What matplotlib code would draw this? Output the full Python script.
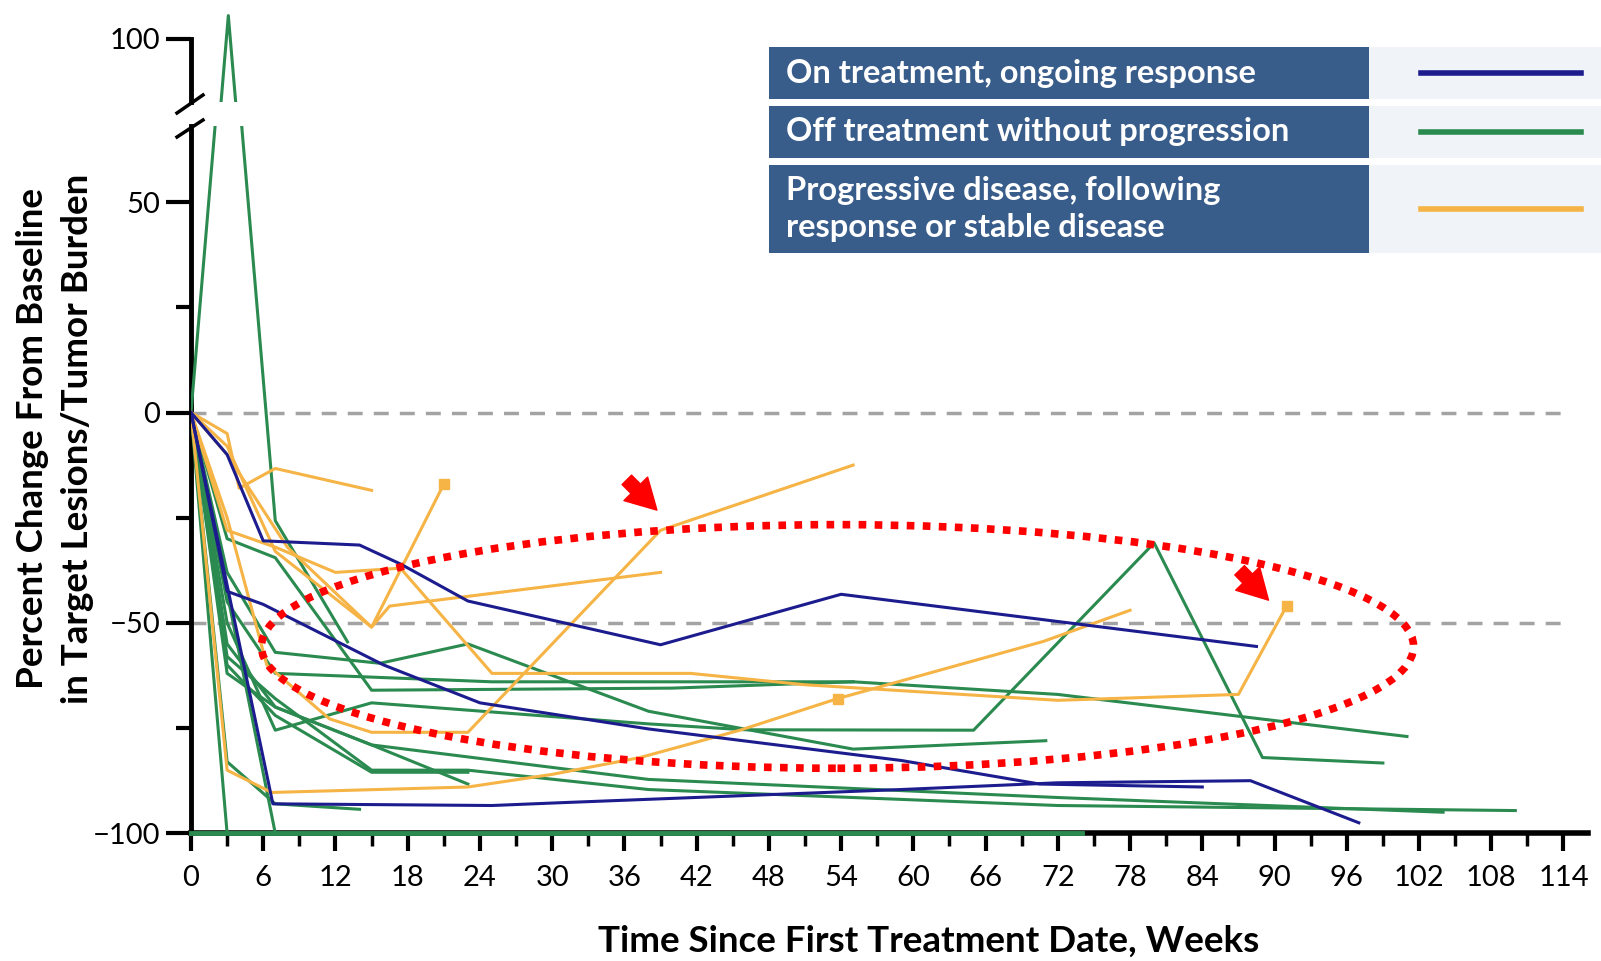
import numpy as np
import matplotlib
matplotlib.use('Agg')
import matplotlib.pyplot as plt
from matplotlib.patches import Ellipse, Rectangle
from matplotlib.lines import Line2D

plt.rcParams['font.family'] = ['Lato', 'DejaVu Sans']

# on treatment, ongoing response
on_weeks = [
    [0, 3, 6, 14, 17.4, 23, 39, 54, 88.5],
    [0, 3, 6, 16, 24, 38, 59, 70.5, 84],
    [0, 6.8, 25, 31, 59, 72, 88, 97],
]
on_pct = [
    [0, -10, -30.5, -31.5, -36, -44.8, -55.2, -43.2, -55.6],
    [0, -42.5, -45.6, -60, -69, -75.2, -82.7, -88.3, -89],
    [0, -93, -93.4, -92.7, -89.6, -88, -87.5, -97.5],
]

# off treatment without progression
off_weeks = [
    [0, 3.1, 7, 13],
    [0, 3, 74],
    [0, 7],
    [0, 3, 7, 25, 55, 72, 101],
    [0, 3, 7, 15.7, 23, 38, 55, 71],
    [0, 3, 7, 15, 40, 55],
    [0, 3, 7, 15, 38, 46, 65, 80, 89, 99],
    [0, 3, 7, 15, 38, 72, 104],
    [0, 3, 7, 15, 23, 38, 72, 110],
    [0, 3, 7, 15, 23],
    [0, 3, 7, 15, 23],
    [0, 3, 7, 14],
]
off_pct = [
    [0, 105.5, -25.7, -54.5],
    [0, -100, -100],
    [0, -100],
    [0, -45, -62, -64, -64, -67, -77],
    [0, -38, -57, -59.6, -55, -71, -80, -78],
    [0, -30, -34.5, -66, -65.5, -64],
    [0, -50, -75.5, -69, -74, -75.4, -75.5, -31, -82, -83.3],
    [0, -55, -70, -79, -87.2, -91.5, -95],
    [0, -58, -68, -85, -85, -89.6, -93.4, -94.6],
    [0, -60, -72, -85.5, -85.5],
    [0, -62, -70, -79, -88.3],
    [0, -83, -93, -94.3],
]
# patient whose burden stays at -100 along the axis
axis_weeks = [0, 74]
axis_pct = [-100, -100]

# progressive disease after response / stable disease
pd_weeks = [
    [0, 3, 4, 7, 15],
    [0, 3, 7, 15, 21],
    [0, 3, 6.3, 11.5, 15, 23, 39, 55],
    [0, 3, 8, 15, 16.5, 39],
    [0, 3, 7, 12, 17.4, 25, 41.5, 51, 72, 87, 91],
    [0, 3, 6.7, 23, 30, 37.3, 45.6, 53.7, 70.8, 78],
]
pd_pct = [
    [0, -5, -18, -13.3, -18.5],
    [0, -8, -33, -51, -17],
    [0, -25, -60, -72.8, -76, -76, -28, -12.5],
    [0, -10, -32, -51, -46, -38],
    [0, -28, -32, -38, -37, -62, -62, -64.7, -68.4, -67, -46],
    [0, -85, -90.3, -89, -86, -82, -75.5, -68, -54.4, -47],
]
# points drawn with a square marker (line index -> point indices)
pd_squares = {1: [4], 4: [10], 5: [7]}

x_ticks = np.arange(0, 115, 6)
y_ticks = [50, 0, -50, -100]
y_ticklabels = ['50', '0', '\u221250', '\u2212100']
legend_labels = ['On treatment, ongoing response',
                 'Off treatment without progression',
                 'Progressive disease, following\nresponse or stable disease']

C_ON = '#1c1c8e'
C_OFF = '#2b8a4f'
C_PD = '#f5b445'
C_BOX = '#395d8b'
LW = 2.2

W, H = 1601, 961
fig = plt.figure(figsize=(W / 100, H / 100), dpi=100)
ax = fig.add_axes([0.1193, 0.1329, 0.8723, 0.7356])
ax_top = fig.add_axes([0.1193, 0.894, 0.8723, 0.1007])


def draw_lines(a):
    for wk, pc in zip(off_weeks, off_pct):
        a.plot(wk, pc, color=C_OFF, lw=LW, zorder=3)
    for i, (wk, pc) in enumerate(zip(pd_weeks, pd_pct)):
        a.plot(wk, pc, color=C_PD, lw=LW, zorder=3)
        if i in pd_squares:
            idx = pd_squares[i]
            a.plot(np.array(wk)[idx], np.array(pc)[idx], 's', color=C_PD,
                   ms=7, zorder=4)
    for wk, pc in zip(on_weeks, on_pct):
        a.plot(wk, pc, color=C_ON, lw=LW, zorder=3)


draw_lines(ax)
draw_lines(ax_top)
ax.plot(axis_weeks, axis_pct, color=C_OFF, lw=3.5, zorder=5, clip_on=False)

# reference lines at 0 and -50
for yref in (0, -50):
    ax.plot([0, 114], [yref, yref], color='#a3a3a3', lw=2.5,
            linestyle=(0, (4.3, 3.2)), zorder=2)

ax.set_xlim(0, 116)
ax.set_ylim(-100, 68)
ax_top.set_xlim(0, 116)
ax_top.set_ylim(85, 108)

for a in (ax, ax_top):
    a.spines['top'].set_visible(False)
    a.spines['right'].set_visible(False)
    a.spines['left'].set_linewidth(3.5)
    a.patch.set_alpha(0)
ax.spines['bottom'].set_linewidth(4)
ax_top.spines['bottom'].set_visible(False)
ax_top.spines['left'].set_bounds(85, 100)

ax.set_xticks(x_ticks)
ax.set_xticks(np.arange(3, 115, 6), minor=True)
ax.set_xticklabels([str(t) for t in x_ticks], fontsize=21)
ax.set_yticks(y_ticks)
ax.set_yticklabels(y_ticklabels, fontsize=21)
ax.set_yticks([25, -25, -75], minor=True)
ax.tick_params(axis='x', which='major', length=13, width=3, pad=10)
ax.tick_params(axis='x', which='minor', length=9, width=2.5)
ax.tick_params(axis='y', which='major', length=18, width=3, pad=4)
ax.tick_params(axis='y', which='minor', length=11, width=3)

ax_top.set_xticks([])
ax_top.set_yticks([100])
ax_top.set_yticklabels(['100'], fontsize=21)
ax_top.tick_params(axis='y', length=18, width=3, pad=4)

# axis break marks
for (x0, y0, x1, y1) in [(177, 113, 203, 95), (177, 137, 203, 120)]:
    fig.add_artist(Line2D([x0 / W, x1 / W], [1 - y0 / H, 1 - y1 / H],
                          transform=fig.transFigure, color='black', lw=2.5))

# highlighted region
ell = Ellipse((53.7, -55.6), width=95.7, height=57.9, fill=False,
              edgecolor='#ff0000', lw=5.5, linestyle=(0, (1, 1.1)), zorder=6)
ax.add_patch(ell)
arrow_kw = dict(arrowstyle='simple,head_length=0.9,head_width=1.0,tail_width=0.4',
                color='#ff0000', mutation_scale=24, shrinkA=0, shrinkB=0)
ax.annotate('', xy=(38.7, -23.2), xytext=(36.2, -16), arrowprops=arrow_kw, zorder=7)
ax.annotate('', xy=(89.5, -44.6), xytext=(87.1, -37.5), arrowprops=arrow_kw, zorder=7)

# legend table
rows = [(47, 99), (106, 158), (165, 253)]
for (top, bot), label, col in zip(rows, legend_labels, (C_ON, C_OFF, C_PD)):
    fig.add_artist(Rectangle((769 / W, 1 - bot / H), 600 / W, (bot - top) / H,
                             transform=fig.transFigure, color=C_BOX, lw=0))
    fig.add_artist(Rectangle((1369 / W, 1 - bot / H), 232 / W, (bot - top) / H,
                             transform=fig.transFigure, color='#f0f3f7', lw=0))
    yc = 1 - (top + bot) / 2 / H
    fig.text(786 / W, yc, label, color='white', fontsize=23.5, fontweight='bold',
             va='center', ha='left', linespacing=1.3)
    fig.add_artist(Line2D([1421 / W, 1581 / W], [yc, yc], transform=fig.transFigure,
                          color=col, lw=4))

fig.text(55 / W, 1 - 439 / H,
         'Percent Change From Baseline\nin Target Lesions/Tumor Burden',
         rotation=90, ha='center', va='center', fontsize=26.5, fontweight='bold',
         linespacing=1.45, multialignment='center')
fig.text(929 / W, 1 - 941 / H, 'Time Since First Treatment Date, Weeks',
         ha='center', va='center', fontsize=26.5, fontweight='bold')

fig.savefig('out.png', dpi=100)
